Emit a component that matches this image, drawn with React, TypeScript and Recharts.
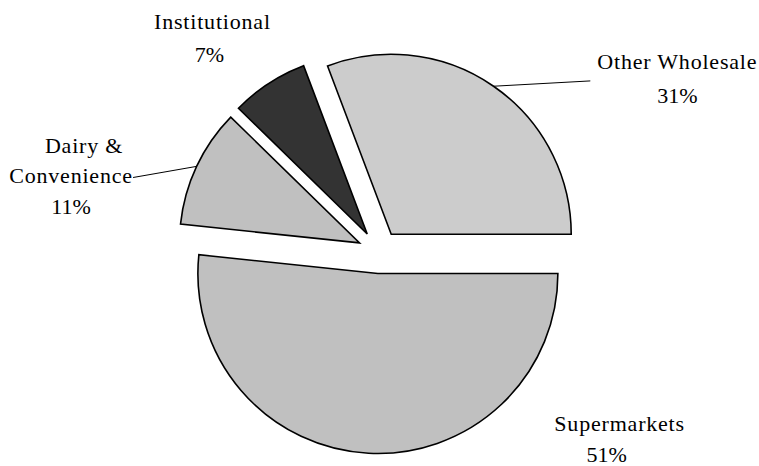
import React from 'react';
import { PieChart, Pie, Cell } from 'recharts';

// ---- data ----
const categories = ['Other Wholesale', 'Institutional', 'Dairy & Convenience', 'Supermarkets'];
const shares = [30.6, 6.9, 10.6, 51.4];
const labelTexts = [['Other Wholesale'], ['Institutional'], ['Dairy &', 'Convenience'], ['Supermarkets']];
const colors = ['#cccccc', '#333333', '#c0c0c0', '#c0c0c0'];

const data = categories.map((name, i) => ({ name, value: shares[i] }));

// ---- layout / style ----
const W = 759;
const H = 466;
const CX = 379;
const CY = 252;
const R = 180;
const EXPLODE = 21.5;
const RAD = Math.PI / 180;
const FONT = 'Liberation Serif, Times New Roman, serif';
const FONT_SIZE = 22;

// label placement relative to point on outer radius at mid-angle
const LABEL_PLACE = [
  { dx: 196, dy: -35, gap: 34, shifts: [0, 0], lead: { x: -87, y: 12 } },
  { dx: -68, dy: -72, gap: 33, shifts: [0, -3], lead: null },
  { dx: -141, dy: -23, gap: 30.5, shifts: [9, -4, -4], lead: { x: 58, y: 25 } },
  { dx: 244, dy: -0.5, gap: 31, shifts: [6, -7], lead: null },
];

const total = shares.reduce((a, b) => a + b, 0);
const midAngles = shares.map((v, i) => {
  const before = shares.slice(0, i).reduce((a, b) => a + b, 0);
  return ((before + v / 2) / total) * 360;
});

const renderLabel = (props: any) => {
  const { cx, cy, midAngle, outerRadius, index } = props;
  const cos = Math.cos(-midAngle * RAD);
  const sin = Math.sin(-midAngle * RAD);
  const ax = cx + outerRadius * cos;
  const ay = cy + outerRadius * sin;
  const p = LABEL_PLACE[index];
  const tx = ax + p.dx;
  const ty = ay + p.dy;
  const names = labelTexts[index];
  const lines = [...names, `${Math.round(shares[index])}%`];
  const sx = cx + (outerRadius + EXPLODE) * cos;
  const sy = cy + (outerRadius + EXPLODE) * sin;
  return (
    <g key={`lbl-${index}`}>
      {p.lead && (
        <line x1={sx} y1={sy} x2={tx + p.lead.x} y2={ty + p.lead.y} stroke="#000" strokeWidth={1} />
      )}
      <text x={tx} y={ty} textAnchor="middle" fontFamily={FONT} fontSize={FONT_SIZE} fill="#000">
        {lines.map((l, j) => (
          <tspan
            key={j}
            x={tx + (p.shifts[j] || 0)}
            y={ty + j * p.gap}
            letterSpacing={j < names.length ? 0.8 : 0}
          >
            {l}
          </tspan>
        ))}
      </text>
    </g>
  );
};

export default function App() {
  return (
    <div style={{ position: 'absolute', left: 0, top: 0, width: W, height: H, background: '#fff' }}>
      <PieChart width={W} height={H} margin={{ top: 0, right: 0, bottom: 0, left: 0 }}>
        {data.map((_, k) => (
          <Pie
            key={`pie-${k}`}
            data={data}
            dataKey="value"
            nameKey="name"
            cx={CX + EXPLODE * Math.cos(midAngles[k] * RAD)}
            cy={CY - EXPLODE * Math.sin(midAngles[k] * RAD)}
            outerRadius={R}
            innerRadius={0}
            startAngle={0}
            endAngle={360}
            isAnimationActive={false}
            labelLine={false}
            label={false}
          >
            {data.map((d, i) => (
              <Cell
                key={`c-${i}`}
                fill={i === k ? colors[i] : 'none'}
                stroke={i === k ? '#000' : 'none'}
                strokeWidth={1.6}
              />
            ))}
          </Pie>
        ))}
        <Pie
          data={data}
          dataKey="value"
          nameKey="name"
          cx={CX}
          cy={CY}
          outerRadius={R}
          startAngle={0}
          endAngle={360}
          isAnimationActive={false}
          labelLine={false}
          label={renderLabel}
        >
          {data.map((d, i) => (
            <Cell key={`lc-${i}`} fill="none" stroke="none" />
          ))}
        </Pie>
      </PieChart>
    </div>
  );
}
